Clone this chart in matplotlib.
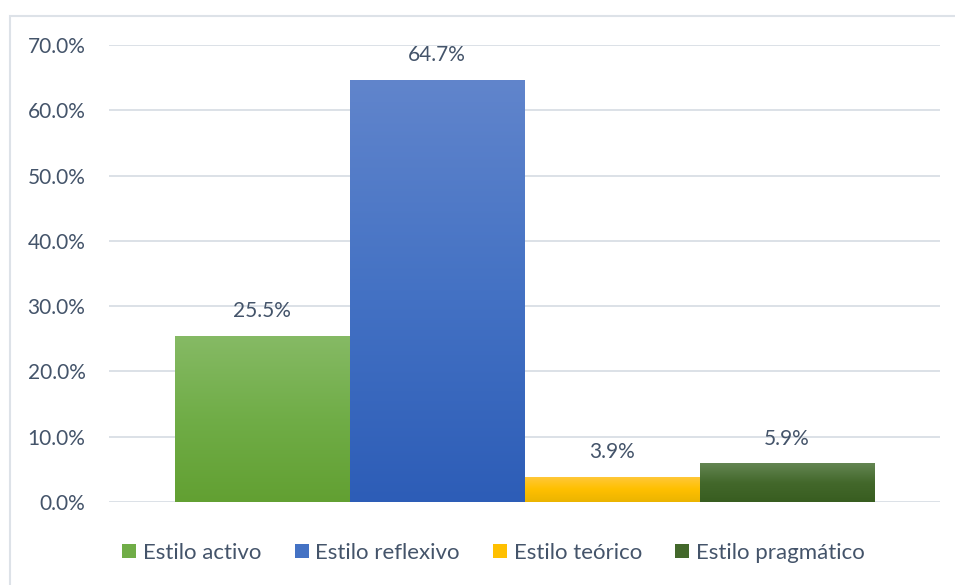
import matplotlib
matplotlib.use("Agg")
import matplotlib.pyplot as plt
import numpy as np
from matplotlib.colors import LinearSegmentedColormap
from matplotlib.patches import Rectangle, Patch
from matplotlib.ticker import FuncFormatter

categories = ["Estilo activo", "Estilo reflexivo", "Estilo teórico", "Estilo pragmático"]
values = [25.5, 64.7, 3.9, 5.9]
yticks = [0, 10, 20, 30, 40, 50, 60, 70]

grad_colors = [
    ("#86ba65", "#70ad47", "#62a032"),
    ("#6185cc", "#4472c4", "#2d5db7"),
    ("#ffc83d", "#ffc000", "#ebb400"),
    ("#648652", "#43682b", "#385d20"),
]
mid_colors = [g[1] for g in grad_colors]

plt.rcParams['font.family'] = ['Lato', 'DejaVu Sans']
text_color = "#44546a"
grid_color = "#d9dee5"

fig = plt.figure(figsize=(9.55, 5.85), dpi=100)
ax = fig.add_axes([109/955, 1-502/585, (940-109)/955, (502-45)/585])

frame = Rectangle((10/955, -0.02), 1.0, 1-16/585+0.02, transform=fig.transFigure,
                  fill=False, edgecolor="#dde2e8", linewidth=1.5, zorder=0)
fig.patches.append(frame)

w = 175/831
offsets = (np.arange(len(values)) - (len(values)-1)/2) * w
bars = ax.bar(offsets, values, width=w, color="none", edgecolor="none", zorder=3)

grad = np.linspace(0, 1, 256).reshape(-1, 1)
for b, g in zip(bars, grad_colors):
    cmap = LinearSegmentedColormap.from_list("g", [g[0], g[1], g[2]])
    x0, y0 = b.get_x(), b.get_y()
    im = ax.imshow(grad, cmap=cmap, aspect="auto", origin="upper",
                   extent=(x0, x0 + b.get_width(), y0, y0 + b.get_height()), zorder=3)
    im.set_clip_path(b)

for b, v in zip(bars, values):
    ax.annotate(f"{v:.1f}%", (b.get_x() + b.get_width()/2, v), xytext=(0, 17.5),
                textcoords="offset points", ha="center", va="center",
                fontsize=15, color=text_color)

ax.set_xlim(-0.5, 0.5)
ax.set_ylim(0, 70)
ax.set_yticks(yticks)
ax.yaxis.set_major_formatter(FuncFormatter(lambda v, p: f"{v:.1f}%"))
ax.tick_params(axis="y", length=0, pad=17, labelsize=15, labelcolor=text_color)
ax.set_xticks([])
ax.grid(axis="y", color=grid_color, linewidth=1.3, zorder=0)
ax.set_axisbelow(True)
for s in ax.spines.values():
    s.set_visible(False)

handles = [Patch(facecolor=c, edgecolor="none") for c in mid_colors]
leg = fig.legend(handles, categories, loc="center", bbox_to_anchor=(493.5/955, 1-553/585),
                 ncol=4, frameon=False, fontsize=16, handlelength=0.63, handleheight=0.63,
                 handletextpad=0.3, columnspacing=1.5, borderpad=0, borderaxespad=0)
for t in leg.get_texts():
    t.set_color(text_color)

fig.savefig("out.png", dpi=100, facecolor="white")
